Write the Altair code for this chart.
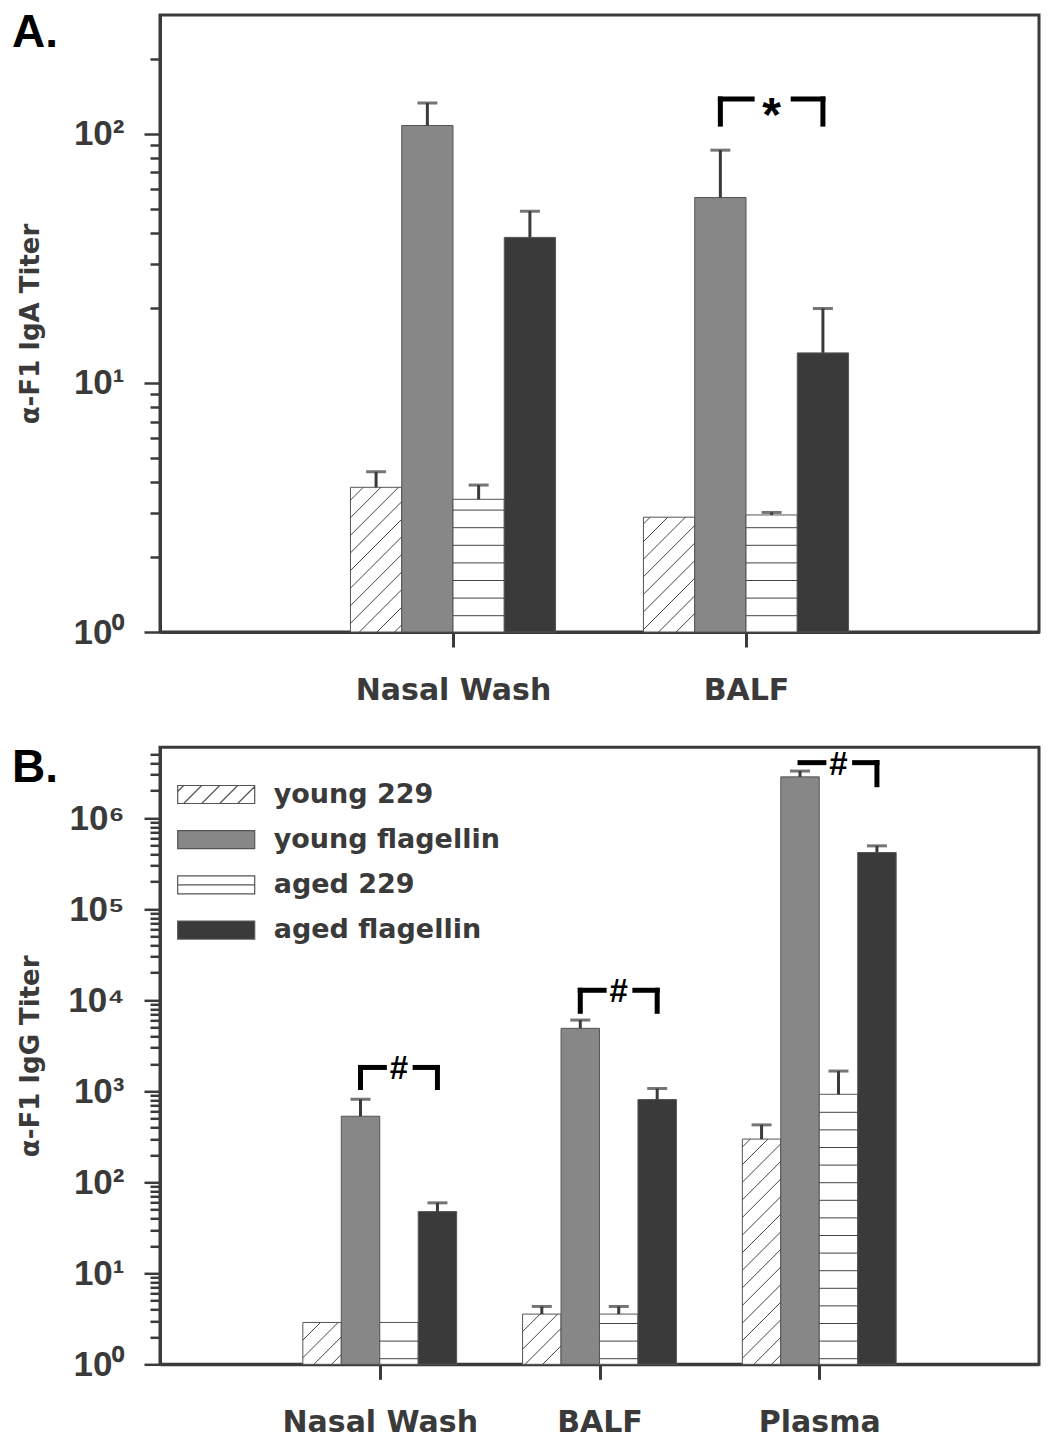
import math
import altair as alt
import pandas as pd

# ---------------- data ----------------
GROUPS = ["young 229", "young flagellin", "aged 229", "aged flagellin"]

# Panel A: anti-F1 IgA titer (bar height, top of the error bar)
A_SITES = ["Nasal Wash", "BALF"]
A_YOUNG_229 = [3.81, 2.89]
A_YOUNG_229_UP = [4.40, None]
A_YOUNG_FLA = [108, 55.5]
A_YOUNG_FLA_UP = [133, 86]
A_AGED_229 = [3.41, 2.95]
A_AGED_229_UP = [3.89, 3.02]
A_AGED_FLA = [38.4, 13.2]
A_AGED_FLA_UP = [48.9, 19.9]
A_BRACKETS = [("BALF", "*", 138, 109.4, True)]

# Panel B: anti-F1 IgG titer
B_SITES = ["Nasal Wash", "BALF", "Plasma"]
B_YOUNG_229 = [2.88, 3.56, 298]
B_YOUNG_229_UP = [None, 4.32, 427]
B_YOUNG_FLA = [531, 4908, 2.84e6]
B_YOUNG_FLA_UP = [816, 6050, 3.29e6]
B_AGED_229 = [2.88, 3.56, 925]
B_AGED_229_UP = [None, 4.32, 1665]
B_AGED_FLA = [47.6, 810, 4.19e5]
B_AGED_FLA_UP = [59.4, 1071, 4.96e5]
B_BRACKETS = [("Nasal Wash", "#", 1824, 1098, True),
              ("BALF", "#", 12850, 7550, True),
              ("Plasma", "#", 4.07e6, 2.33e6, False)]

A_Y_TOP = 300
B_Y_TOP = 6e6
SUPERS = ["⁰", "¹", "²", "³", "⁴", "⁵", "⁶"]

# ---------------- style ----------------
FILLS = ["#ffffff", "#878787", "#ffffff", "#3a3a3a"]
EDGE = "#555555"
INK = "#3a3a3a"
PLOT_W, PLOT_H = 879, 617
BAR_W = 0.175
HATCH = 17.6
FONT = "DejaVu Sans"
NUM_FONT = "Liberation Sans"
SYM_UNIT = 12.5          # legend symbol path unit in px (sqrt(symbolSize)/2)
SWATCH_W, SWATCH_H = 77, 18


def bar_table(sites, means, uppers):
    rows = []
    for gi, g in enumerate(GROUPS):
        for si, s in enumerate(sites):
            x0 = si + 1 - 2 * BAR_W + gi * BAR_W
            rows.append(dict(site=s, group=g, fill=FILLS[gi], x=x0, x1=x0 + BAR_W,
                             xc=x0 + BAR_W / 2, y=means[gi][si], up=uppers[gi][si], base=1.0))
    return pd.DataFrame(rows)


def hatch_tables(bars, n_sites, y_top, diag_phase, horiz_offset):
    pxu = PLOT_W / (n_sites + 1)
    pxd = PLOT_H / math.log10(y_top)
    diag, horiz = [], []
    for r in bars.itertuples():
        xl, xr = r.x * pxu, r.x1 * pxu
        yt = math.log10(r.y) * pxd
        if r.group == "young 229":
            k0 = math.floor((-xr - diag_phase) / HATCH)
            k1 = math.ceil((yt - xl - diag_phase) / HATCH)
            for k in range(k0, k1 + 1):
                c = diag_phase + k * HATCH
                xs = max(xl, -c)
                xe = min(xr, yt - c)
                if xe - xs > 1:
                    diag.append(dict(x=xs / pxu, y=10 ** ((xs + c) / pxd),
                                     x2=xe / pxu, y2=10 ** ((xe + c) / pxd)))
        elif r.group == "aged 229":
            y = horiz_offset
            while y < yt - 3:
                horiz.append(dict(x=r.x, x2=r.x1, y=10 ** (y / pxd)))
                y += HATCH
    return pd.DataFrame(diag), pd.DataFrame(horiz)


def bracket_tables(sites, brackets):
    segs, labels = [], []
    for site, sym, top, foot, left_leg in brackets:
        si = sites.index(site) + 1
        xl = si - BAR_W / 2
        xr = si + 1.5 * BAR_W
        w = xr - xl
        segs.append(dict(x=xl, x2=xl + 0.31 * w, y=top, y2=top))
        segs.append(dict(x=xr - 0.29 * w, x2=xr, y=top, y2=top))
        segs.append(dict(x=xr, x2=xr, y=top, y2=foot))
        if left_leg:
            segs.append(dict(x=xl, x2=xl, y=top, y2=foot))
        labels.append(dict(x=(xl + xr) / 2, y=top, t=sym))
    return pd.DataFrame(segs), pd.DataFrame(labels)


def y_ticks(y_top):
    vals = []
    k = 0
    while 10 ** k <= y_top:
        for m in range(1, 10):
            v = m * 10 ** k
            if v < y_top * 0.999:
                vals.append(v)
        k += 1
    return vals


def legend_paths():
    hw = SWATCH_W / 2 / SYM_UNIT
    hh = SWATCH_H / 2 / SYM_UNIT
    rect = f"M{-hw:.3f},{-hh:.3f}H{hw:.3f}V{hh:.3f}H{-hw:.3f}Z"
    diag = rect
    step = 18 / SYM_UNIT
    a = -hw + 6 / SYM_UNIT - step
    while a < hw:
        x0, y0 = a, hh
        x1, y1 = a + 2 * hh, -hh
        if x0 < -hw:
            y0 = hh - (-hw - x0)
            x0 = -hw
        if x1 > hw:
            y1 = hh - (hw - a)
            x1 = hw
        diag += f"M{x0:.3f},{y0:.3f}L{x1:.3f},{y1:.3f}"
        a += step
    horiz = rect + f"M{-hw:.3f},0H{hw:.3f}"
    return [diag, rect, horiz, rect]


def panel(letter, letter_y, sites, means, uppers, brackets, y_top, title, diag_phase,
          horiz_offset, with_legend):
    bars = bar_table(sites, means, uppers)
    diag, horiz = hatch_tables(bars, len(sites), y_top, diag_phase, horiz_offset)
    segs, sym = bracket_tables(sites, brackets)
    errs = bars[bars["up"].notna()].copy()
    errs["x"] = errs["xc"]
    n = len(sites)
    xscale = alt.Scale(domain=[0, n + 1], nice=False, zero=False)
    yscale = alt.Scale(type="log", domain=[1, y_top], nice=False)
    label_list = "[" + ",".join("'" + s + "'" for s in sites) + "]"
    pow_test = "abs(log(datum.value)/LN10 - round(log(datum.value)/LN10)) < 1e-6"
    sup_list = "[" + ",".join("'" + s + "'" for s in SUPERS) + "]"
    xaxis = alt.Axis(values=list(range(1, n + 1)),
                     labelExpr=f"{label_list}[datum.value - 1]",
                     title=None, grid=False, tickSize=15, tickWidth=3, tickColor=INK,
                     domainWidth=3, domainColor=INK, labelFont=FONT, labelFontWeight="bold",
                     labelFontSize=30, labelColor=INK, labelPadding=28, labelFlush=False,
                     labelLimit=500)
    yaxis = alt.Axis(values=y_ticks(y_top),
                     labelExpr=f"{pow_test} ? '10' + {sup_list}[round(log(datum.value)/LN10)] : ''",
                     tickSize={"condition": {"test": pow_test, "value": 16}, "value": 10},
                     tickWidth=2.5, tickColor=INK, domainWidth=3, domainColor=INK,
                     labelFont=NUM_FONT, labelFontWeight="bold", labelFontSize=35,
                     labelColor=INK, labelPadding=20, labelOverlap=False, labelFlush=False,
                     grid=False, title=title, titleFont=FONT, titleFontWeight="bold",
                     titleFontSize=26, titleColor=INK, titleX=-130, titleBaseline="middle",
                     titleAngle=270)
    X = alt.X("x:Q", scale=xscale, axis=xaxis)
    Y = alt.Y("y:Q", scale=yscale, axis=yaxis)

    if with_legend:
        leg = alt.Legend(title=None, orient="none", legendX=12.5, legendY=28.5,
                         symbolSize=(2 * SYM_UNIT) ** 2, symbolStrokeWidth=1.2,
                         symbolOpacity=1, symbolOffset=25,
                         labelFont=FONT, labelFontWeight="bold", labelFontSize=27,
                         labelColor=INK, labelOffset=44, rowPadding=17.2, padding=5.2,
                         labelLimit=500)
        fill = alt.Fill("group:N", scale=alt.Scale(domain=GROUPS, range=FILLS), legend=leg)
    else:
        fill = alt.Fill("fill:N", scale=None)

    layers = [
        alt.Chart(bars).mark_rect(stroke=EDGE, strokeWidth=1).encode(
            x=X, x2="x1:Q", y=Y, y2="base:Q", fill=fill),
    ]
    if len(diag):
        layers.append(alt.Chart(diag).mark_rule(color="#444444", strokeWidth=1).encode(
            x=X, x2="x2:Q", y=Y, y2="y2:Q"))
    if len(horiz):
        layers.append(alt.Chart(horiz).mark_rule(color="#444444", strokeWidth=1).encode(
            x=X, x2="x2:Q", y=Y))
    layers.append(alt.Chart(errs).mark_rule(color=INK, strokeWidth=3).encode(
        x=X, y=Y, y2="up:Q"))
    layers.append(alt.Chart(errs).mark_tick(orient="horizontal", size=20, thickness=3,
                                            color=INK).encode(
        x=X, y=alt.Y("up:Q", scale=yscale, axis=yaxis)))
    layers.append(alt.Chart(segs).mark_rule(color="black", strokeWidth=5,
                                            strokeCap="square").encode(
        x=X, x2="x2:Q", y=Y, y2="y2:Q"))
    star = sym["t"].iloc[0] == "*"
    layers.append(alt.Chart(sym).mark_text(
        font=NUM_FONT, fontWeight="bold", fontSize=48 if star else 33,
        baseline="alphabetic", align="center", dy=32 if star else 12, color="black").encode(
        x=X, y=Y, text="t:N"))
    if with_legend:
        pts = bars.copy()
        pts["x"] = pts["xc"]
        layers.append(alt.Chart(pts).mark_point(filled=True, opacity=0,
                                                strokeWidth=1.2).encode(
            x=X, y=Y, fill=fill,
            stroke=alt.Stroke("group:N", scale=alt.Scale(domain=GROUPS, range=[EDGE] * 4),
                              legend=leg),
            shape=alt.Shape("group:N", scale=alt.Scale(domain=GROUPS, range=legend_paths()),
                            legend=leg)))
    layers.append(alt.Chart(pd.DataFrame({"t": [letter]})).mark_text(
        font=NUM_FONT, fontWeight="bold", fontSize=46, align="left",
        baseline="top", color="black").encode(
        x=alt.value(-148), y=alt.value(letter_y), text="t:N"))
    return alt.layer(*layers).properties(width=PLOT_W, height=PLOT_H)


A_MEANS = [A_YOUNG_229, A_YOUNG_FLA, A_AGED_229, A_AGED_FLA]
A_UPS = [A_YOUNG_229_UP, A_YOUNG_FLA_UP, A_AGED_229_UP, A_AGED_FLA_UP]
B_MEANS = [B_YOUNG_229, B_YOUNG_FLA, B_AGED_229, B_AGED_FLA]
B_UPS = [B_YOUNG_229_UP, B_YOUNG_FLA_UP, B_AGED_229_UP, B_AGED_FLA_UP]

pa = panel("A.", -4, A_SITES, A_MEANS, A_UPS, A_BRACKETS, A_Y_TOP, "α-F1 IgA Titer",
           -199.4, 16.3, False)
pb = panel("B.", -1, B_SITES, B_MEANS, B_UPS, B_BRACKETS, B_Y_TOP, "α-F1 IgG Titer",
           -153.9, 5.6, True)

chart = alt.vconcat(pa, pb, spacing=28.3).resolve_scale(
    x="independent", y="independent", fill="independent", shape="independent",
    stroke="independent"
).configure(
    padding={"left": 2, "top": 0, "right": 0, "bottom": 0}, background="white"
).configure_view(stroke=INK, strokeWidth=3)

chart.save("out.html", embed_options={"renderer": "svg", "actions": False})
